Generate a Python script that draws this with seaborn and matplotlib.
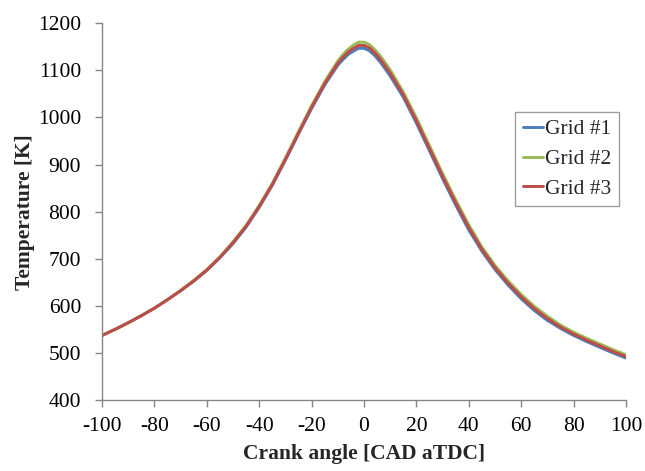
import numpy as np
import pandas as pd
import matplotlib
matplotlib.use("Agg")
import matplotlib.pyplot as plt
import seaborn as sns

crank_angle = [-100, -95, -90, -85, -80, -75, -70, -65, -60, -55, -50, -45, -40, -35, -30,
               -25, -20, -15, -10, -8, -6, -4, -2, 0, 2, 4, 6, 8, 10, 15, 20, 25, 30, 35,
               40, 45, 50, 55, 60, 65, 70, 75, 80, 85, 90, 95, 100]

grid1 = [537, 550, 564, 579, 595, 613, 632, 652, 675, 702, 732, 767, 809, 856, 909,
         965, 1019, 1069, 1111, 1123, 1134, 1141, 1147, 1147, 1142, 1132, 1119, 1104, 1088,
         1043, 988, 929, 870, 814, 761, 716, 677, 644, 615, 590, 569, 552, 537, 524, 512, 500, 489]
grid2 = [537, 550, 564, 579, 595, 613, 633, 654, 677, 704, 736, 771, 813, 860, 914,
         970, 1025, 1076, 1120, 1134, 1145, 1154, 1160, 1160, 1155, 1145, 1132, 1117, 1101,
         1054, 999, 940, 881, 825, 772, 725, 686, 653, 624, 599, 578, 559, 544, 531, 519, 507, 496]
grid3 = [537, 550, 564, 579, 595, 613, 632, 653, 676, 703, 734, 769, 811, 858, 911,
         967, 1022, 1072, 1115, 1128, 1139, 1147, 1153, 1153, 1148, 1138, 1125, 1110, 1094,
         1048, 993, 934, 875, 819, 766, 720, 681, 648, 619, 594, 573, 555, 540, 527, 515, 503, 492]

series_names = ["Grid #1", "Grid #2", "Grid #3"]
x_ticks = [-100, -80, -60, -40, -20, 0, 20, 40, 60, 80, 100]
y_ticks = [400, 500, 600, 700, 800, 900, 1000, 1100, 1200]

df = pd.concat([
    pd.DataFrame({"angle": crank_angle, "T": vals, "series": name})
    for name, vals in zip(series_names, [grid1, grid2, grid3])
])

sns.set_style("white")
plt.rcParams["font.family"] = ["Liberation Serif", "DejaVu Serif"]

fs = 15.5
fig = plt.figure(figsize=(6.45, 4.71), dpi=100)
ax = fig.add_axes([102 / 645, 1 - 400 / 471, 524 / 645, 376.7 / 471])

palette = {"Grid #1": "#4A7EBB", "Grid #2": "#98B954", "Grid #3": "#BE4B48"}
sns.lineplot(data=df, x="angle", y="T", hue="series", palette=palette, linewidth=2.1,
             ax=ax, sort=False, estimator=None)

ax.set_xlim(-100, 100)
ax.set_ylim(400, 1200)
ax.set_xticks(x_ticks)
ax.set_yticks(y_ticks)
ax.set_xticklabels([str(v) for v in x_ticks], fontsize=fs)
ax.set_yticklabels([str(v) for v in y_ticks], fontsize=fs)
ax.set_xlabel("Crank angle [CAD aTDC]", fontsize=fs, fontweight="bold", labelpad=6)
ax.set_ylabel("Temperature [K]", fontsize=fs, fontweight="bold", labelpad=2)

for s in ["top", "right"]:
    ax.spines[s].set_visible(False)
for s in ["left", "bottom"]:
    ax.spines[s].set_color("#868686")
    ax.spines[s].set_linewidth(1.0)
ax.tick_params(axis="both", direction="out", length=5, width=1, color="#868686",
               labelcolor="black", left=True, bottom=True)
ax.tick_params(axis="y", pad=10)
ax.tick_params(axis="x", pad=7)

leg = ax.legend(loc="upper right", bbox_to_anchor=(0.987, 0.765), fontsize=fs,
                frameon=True, fancybox=False, handlelength=0.95, handletextpad=0.1,
                borderpad=0.35, labelspacing=0.45, borderaxespad=0)
leg.get_frame().set_edgecolor("#868686")
leg.get_frame().set_linewidth(1.0)
leg.set_title(None)

fig.savefig("out.png", dpi=100)
